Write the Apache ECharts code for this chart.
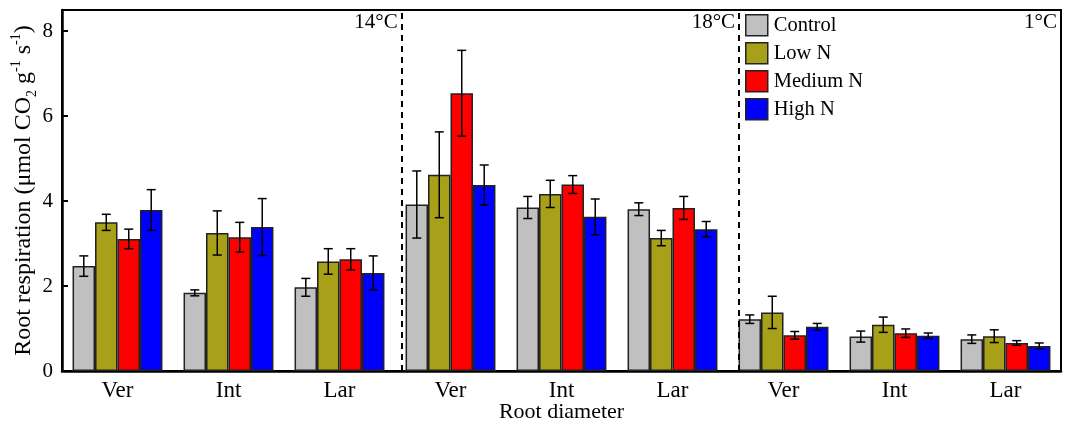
<!DOCTYPE html>
<html>
<head>
<meta charset="utf-8">
<script src="https://cdn.jsdelivr.net/npm/echarts@6/dist/echarts.min.js"></script>
<style>
  html, body { margin: 0; padding: 0; background: #fff; }
  #main { width: 1067px; height: 429px; }
</style>
</head>
<body>
<div id="main"></div>
<script>
var dom = document.getElementById('main');
var myChart = echarts.init(dom);
var option;

// data
var categories = ['Ver', 'Int', 'Lar', 'Ver', 'Int', 'Lar', 'Ver', 'Int', 'Lar'];
var groups = ['Control', 'Low N', 'Medium N', 'High N'];
var control = [2.47, 1.84, 1.97, 3.92, 3.85, 3.81, 1.22, 0.81, 0.75];
var controlErr = [0.24, 0.07, 0.21, 0.79, 0.26, 0.15, 0.10, 0.13, 0.10];
var lowN = [3.50, 3.25, 2.58, 4.62, 4.17, 3.13, 1.38, 1.09, 0.82];
var lowNErr = [0.19, 0.52, 0.30, 1.01, 0.32, 0.18, 0.38, 0.18, 0.15];
var mediumN = [3.11, 3.15, 2.63, 6.54, 4.39, 3.84, 0.84, 0.89, 0.66];
var mediumNErr = [0.23, 0.35, 0.25, 1.01, 0.21, 0.27, 0.09, 0.10, 0.055];
var highN = [3.79, 3.39, 2.31, 4.38, 3.63, 3.34, 1.04, 0.83, 0.59];
var highNErr = [0.48, 0.67, 0.40, 0.47, 0.42, 0.18, 0.08, 0.065, 0.07];
var temps = ['14\u00b0C', '18\u00b0C', '1\u00b0C'];
var separators = [3.06, 6.1];   // dashed lines, in category units
var tempEnds = [3.06, 6.1, 9];

var values = [control, lowN, mediumN, highN];
var errors = [controlErr, lowNErr, mediumNErr, highNErr];
var colors = ['#c0c0c0', '#a8a018', '#ff0000', '#0000ff'];

var FONT = '"Liberation Serif", "Times New Roman", serif';
var GAP = 0.19;

function errRender(k) {
    return function (params, api) {
        var c = api.value(0);
        var top = api.coord([c, api.value(2)]);
        var bot = api.coord([c, api.value(1)]);
        var band = api.size([1, 0])[0];
        var bw = band * (1 - GAP) / 4;
        var x = top[0] + (k - 1.5) * bw;
        var hw = 4.5;
        var st = { stroke: '#000', lineWidth: 1.5 };
        return {
            type: 'group',
            children: [
                { type: 'line', shape: { x1: x, y1: top[1], x2: x, y2: bot[1] }, style: st },
                { type: 'line', shape: { x1: x - hw, y1: top[1], x2: x + hw, y2: top[1] }, style: st },
                { type: 'line', shape: { x1: x - hw, y1: bot[1], x2: x + hw, y2: bot[1] }, style: st }
            ]
        };
    };
}

var series = [];
groups.forEach(function (g, k) {
    series.push({
        name: g,
        type: 'bar',
        barGap: '0%',
        barCategoryGap: (GAP * 100) + '%',
        itemStyle: { color: colors[k], borderColor: '#222', borderWidth: 1.5 },
        data: values[k],
        z: 2
    });
});
groups.forEach(function (g, k) {
    series.push({
        type: 'custom',
        renderItem: errRender(k),
        data: values[k].map(function (v, i) {
            return [i, v - errors[k][i], v + errors[k][i]];
        }),
        z: 5
    });
});
series.push({
    type: 'scatter',
    xAxisIndex: 1,
    data: [],
    silent: true,
    markLine: {
        symbol: 'none',
        silent: true,
        label: { show: false },
        lineStyle: { color: '#000', type: [6, 5], width: 2 },
        data: separators.map(function (s) { return { xAxis: s }; })
    }
});

option = {
    animation: false,
    grid: {
        left: 62, right: 6, top: 10, bottom: 58,
        outerBoundsMode: 'none',
        containLabel: false,
        show: true, borderColor: '#000', borderWidth: 2
    },
    legend: {
        data: groups,
        orient: 'vertical',
        left: 745,
        top: 14,
        padding: 0,
        itemWidth: 22,
        itemHeight: 21,
        itemGap: 5.5,
        icon: 'rect',
        itemStyle: { borderColor: '#222', borderWidth: 1.5 },
        textStyle: { fontFamily: FONT, fontSize: 20.5, color: '#000', padding: [0, 0, 0, 1] }
    },
    xAxis: [{
        type: 'category',
        data: categories,
        axisLine: { lineStyle: { color: '#000', width: 2.5 } },
        axisTick: { show: false },
        axisLabel: { fontFamily: FONT, fontSize: 23, color: '#000', margin: 8 },
        name: 'Root diameter',
        nameLocation: 'middle',
        nameGap: 30,
        nameMoveOverlap: false,
        nameTextStyle: { fontFamily: FONT, fontSize: 22, color: '#000' }
    }, {
        type: 'value',
        min: 0,
        max: 9,
        show: false
    }],
    yAxis: {
        type: 'value',
        min: 0,
        max: 8.5,
        interval: 2,
        axisLine: { show: true, lineStyle: { color: '#000', width: 2.5 } },
        axisTick: { show: true, inside: true, length: 6, lineStyle: { color: '#000', width: 2 } },
        splitLine: { show: false },
        axisLabel: {
            fontFamily: FONT, fontSize: 21, color: '#000', margin: 9,
            formatter: function (v) { return v % 2 === 0 ? String(v) : ''; }
        },
        name: '{a|Root respiration (\u03bcmol CO}{s|2}{a| g}{p|-1}{a| s}{p|-1}{a|)}',
        nameLocation: 'middle',
        nameRotate: 90,
        nameGap: 23,
        nameMoveOverlap: false,
        nameTextStyle: {
            rich: {
                a: { fontFamily: FONT, fontSize: 24, color: '#000', lineHeight: 30 },
                s: { fontFamily: FONT, fontSize: 14, color: '#000', verticalAlign: 'bottom', lineHeight: 30 },
                p: { fontFamily: FONT, fontSize: 14, color: '#000', verticalAlign: 'top', lineHeight: 30 }
            }
        }
    },
    series: series
};

myChart.setOption(option);

// temperature labels, right-aligned at the end of each panel
var topY = myChart.convertToPixel({ yAxisIndex: 0 }, 8.5);
myChart.setOption({
    graphic: temps.map(function (t, i) {
        var x = myChart.convertToPixel({ xAxisIndex: 1 }, tempEnds[i]);
        return {
            type: 'text',
            x: Math.min(x, 1061) - 4,
            y: topY + 12,
            style: {
                text: t,
                font: '21px ' + FONT,
                fill: '#000',
                align: 'right',
                verticalAlign: 'middle'
            },
            z: 10
        };
    })
});
</script>
</body>
</html>
